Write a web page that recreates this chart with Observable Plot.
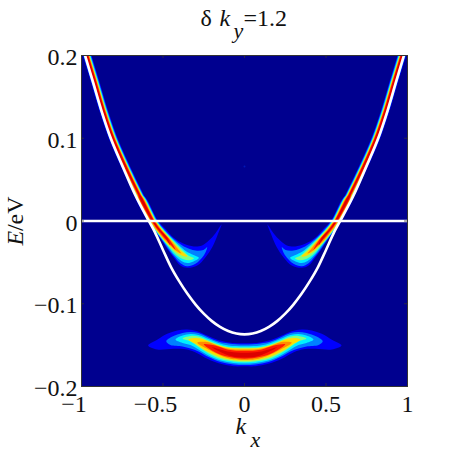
<!DOCTYPE html>
<html><head><meta charset="utf-8">
<style>html,body{margin:0;padding:0;background:#fff}</style>
<script src="https://cdn.jsdelivr.net/npm/d3@7"></script>
<script src="https://cdn.jsdelivr.net/npm/@observablehq/plot@0.6"></script>
</head><body><div id="chart"></div>
<script>
const xTicks=[-1,-0.5,0,0.5,1];
const xNegLabels=["−1","−0.5"];
const xPosLabels=["0","0.5","1"];
const yTicks=[-0.2,-0.1,0,0.1,0.2];
const yLabels=["−0.2","−0.1","0","0.1","0.2"];

const dispersion=[[-.996,.2121],[-.978,.2],[-.927,.1662],[-.878,.1335],[-.82,.0997],[-.745,.0647],[-.669,.0308],[-.587,0],[-.55,-.0135],[-.5,-.035],[-.45,-.056],[-.4,-.073],[-.35,-.088],[-.3,-.101],[-.25,-.112],[-.2,-.121],[-.15,-.128],[-.1,-.133],[-.05,-.136],[0,-.137],[.05,-.136],[.1,-.133],[.15,-.128],[.2,-.121],[.25,-.112],[.3,-.101],[.35,-.088],[.4,-.073],[.45,-.056],[.5,-.035],[.55,-.0135],[.587,0],[.669,.0308],[.745,.0647],[.82,.0997],[.878,.1335],[.927,.1662],[.978,.2],[.996,.2121]];

const ridgeLeft=[[-.983,.2121],[-.965,.2],[-.913,.1662],[-.864,.1335],[-.805,.0997],[-.727,.0647],[-.644,.0308],[-.564,.0006]];
const ridgeRight=[[.983,.2121],[.965,.2],[.913,.1662],[.864,.1335],[.805,.0997],[.727,.0647],[.644,.0308],[.564,.0006]];

const armLeft1=[[-.669,.0308],[-.595,.0006],[-.558,-.0103],[-.515,-.0215],[-.474,-.0336],[-.434,-.0445],[-.393,-.0538],[-.352,-.0566],[-.290,-.0538],[-.239,-.0437],[-.198,-.0317],[-.164,-.0163],[-.141,-.0042],[-.178,-.0147],[-.219,-.0236],[-.260,-.0296],[-.311,-.0308],[-.372,-.0276],[-.434,-.0203],[-.485,-.0094],[-.532,.0006],[-.619,.0308]];
const armLeft2=[[-.665,.0308],[-.591,.0006],[-.555,-.0103],[-.512,-.0211],[-.472,-.0326],[-.431,-.0429],[-.393,-.0510],[-.352,-.0546],[-.301,-.0517],[-.250,-.0417],[-.229,-.0317],[-.252,-.0350],[-.301,-.0356],[-.372,-.0308],[-.434,-.0218],[-.488,-.0109],[-.536,.0006],[-.623,.0308]];
const armLeft3=[[-.662,.0308],[-.588,.0006],[-.552,-.0103],[-.509,-.0211],[-.466,-.0320],[-.426,-.0417],[-.387,-.0483],[-.350,-.0508],[-.313,-.0489],[-.280,-.0445],[-.313,-.0411],[-.356,-.0369],[-.383,-.0326],[-.442,-.0218],[-.494,-.0109],[-.540,.0006],[-.626,.0308]];
const armLeft4=[[-.659,.0308],[-.584,.0006],[-.548,-.0103],[-.506,-.0211],[-.460,-.0320],[-.417,-.0411],[-.374,-.0463],[-.337,-.0475],[-.310,-.0453],[-.344,-.0417],[-.393,-.0326],[-.448,-.0218],[-.498,-.0109],[-.544,.0006],[-.629,.0308]];
const armLeft5=[[-.656,.0308],[-.580,.0006],[-.545,-.0103],[-.502,-.0211],[-.454,-.0314],[-.411,-.0387],[-.368,-.0429],[-.350,-.0427],[-.380,-.0375],[-.405,-.0326],[-.454,-.0218],[-.503,-.0109],[-.547,.0006],[-.632,.0308]];
const armLeft6=[[-.653,.0308],[-.577,.0006],[-.540,-.0103],[-.497,-.0211],[-.451,-.0302],[-.417,-.0363],[-.387,-.0393],[-.414,-.0326],[-.460,-.0218],[-.509,-.0109],[-.551,.0006],[-.635,.0308]];
const armLeft7=[[-.650,.0308],[-.572,.0006],[-.534,-.0103],[-.492,-.0205],[-.454,-.0284],[-.423,-.0350],[-.436,-.0296],[-.466,-.0211],[-.515,-.0103],[-.555,.0006],[-.638,.0308]];
const armLeft8=[[-.647,.0308],[-.568,.0006],[-.528,-.0103],[-.488,-.0199],[-.454,-.0296],[-.475,-.0199],[-.521,-.0103],[-.558,.0006],[-.641,.0308]];

const armRight1=[[.669,.0308],[.595,.0006],[.558,-.0103],[.515,-.0215],[.474,-.0336],[.434,-.0445],[.393,-.0538],[.352,-.0566],[.290,-.0538],[.239,-.0437],[.198,-.0317],[.164,-.0163],[.141,-.0042],[.178,-.0147],[.219,-.0236],[.260,-.0296],[.311,-.0308],[.372,-.0276],[.434,-.0203],[.485,-.0094],[.532,.0006],[.619,.0308]];
const armRight2=[[.665,.0308],[.591,.0006],[.555,-.0103],[.512,-.0211],[.472,-.0326],[.431,-.0429],[.393,-.0510],[.352,-.0546],[.301,-.0517],[.250,-.0417],[.229,-.0317],[.252,-.0350],[.301,-.0356],[.372,-.0308],[.434,-.0218],[.488,-.0109],[.536,.0006],[.623,.0308]];
const armRight3=[[.662,.0308],[.588,.0006],[.552,-.0103],[.509,-.0211],[.466,-.0320],[.426,-.0417],[.387,-.0483],[.350,-.0508],[.313,-.0489],[.280,-.0445],[.313,-.0411],[.356,-.0369],[.383,-.0326],[.442,-.0218],[.494,-.0109],[.540,.0006],[.626,.0308]];
const armRight4=[[.659,.0308],[.584,.0006],[.548,-.0103],[.506,-.0211],[.460,-.0320],[.417,-.0411],[.374,-.0463],[.337,-.0475],[.310,-.0453],[.344,-.0417],[.393,-.0326],[.448,-.0218],[.498,-.0109],[.544,.0006],[.629,.0308]];
const armRight5=[[.656,.0308],[.580,.0006],[.545,-.0103],[.502,-.0211],[.454,-.0314],[.411,-.0387],[.368,-.0429],[.350,-.0427],[.380,-.0375],[.405,-.0326],[.454,-.0218],[.503,-.0109],[.547,.0006],[.632,.0308]];
const armRight6=[[.653,.0308],[.577,.0006],[.540,-.0103],[.497,-.0211],[.451,-.0302],[.417,-.0363],[.387,-.0393],[.414,-.0326],[.460,-.0218],[.509,-.0109],[.551,.0006],[.635,.0308]];
const armRight7=[[.650,.0308],[.572,.0006],[.534,-.0103],[.492,-.0205],[.454,-.0284],[.423,-.0350],[.436,-.0296],[.466,-.0211],[.515,-.0103],[.555,.0006],[.638,.0308]];
const armRight8=[[.647,.0308],[.568,.0006],[.528,-.0103],[.488,-.0199],[.454,-.0296],[.475,-.0199],[.521,-.0103],[.558,.0006],[.641,.0308]];

const lowBand1=[[-.591,-.1505],[-.536,-.1436],[-.474,-.1364],[-.413,-.1323],[-.352,-.1311],[-.290,-.1331],[-.229,-.1384],[-.167,-.1436],[-.106,-.1464],[-.045,-.1476],[.045,-.1476],[.106,-.1464],[.167,-.1436],[.229,-.1384],[.290,-.1331],[.352,-.1311],[.413,-.1323],[.474,-.1364],[.536,-.1436],[.595,-.1505],[.536,-.1553],[.434,-.1544],[.352,-.1553],[.290,-.1598],[.229,-.1665],[.147,-.1726],[.066,-.1755],[0,-.1755],[-.066,-.1755],[-.147,-.1726],[-.229,-.1665],[-.290,-.1598],[-.352,-.1553],[-.434,-.1544],[-.536,-.1553]];
const lowBand2=[[-.480,-.1453],[-.442,-.1396],[-.380,-.1354],[-.331,-.1341],[-.282,-.1354],[-.221,-.1408],[-.160,-.1456],[-.098,-.1480],[0,-.1492],[.098,-.1480],[.160,-.1456],[.221,-.1408],[.282,-.1354],[.331,-.1341],[.380,-.1354],[.442,-.1396],[.480,-.1453],[.454,-.1499],[.380,-.1517],[.331,-.1541],[.282,-.1577],[.221,-.1644],[.147,-.1704],[.067,-.1734],[0,-.1740],[-.067,-.1734],[-.147,-.1704],[-.221,-.1644],[-.282,-.1577],[-.331,-.1541],[-.380,-.1517],[-.454,-.1499]];
const lowBand3=[[-.423,-.1432],[-.380,-.1384],[-.331,-.1366],[-.282,-.1378],[-.221,-.1426],[-.160,-.1474],[-.098,-.1505],[0,-.1513],[.098,-.1505],[.160,-.1474],[.221,-.1426],[.282,-.1378],[.331,-.1366],[.380,-.1384],[.423,-.1432],[.380,-.1474],[.331,-.1499],[.282,-.1553],[.221,-.1625],[.147,-.1686],[.067,-.1716],[0,-.1722],[-.067,-.1716],[-.147,-.1686],[-.221,-.1625],[-.282,-.1553],[-.331,-.1499],[-.380,-.1474]];
const lowBand4=[[-.380,-.1420],[-.331,-.1390],[-.282,-.1396],[-.221,-.1444],[-.160,-.1492],[-.098,-.1523],[0,-.1529],[.098,-.1523],[.160,-.1492],[.221,-.1444],[.282,-.1396],[.331,-.1390],[.380,-.1420],[.331,-.1456],[.282,-.1523],[.221,-.1601],[.147,-.1668],[.067,-.1698],[0,-.1706],[-.067,-.1698],[-.147,-.1668],[-.221,-.1601],[-.282,-.1523],[-.331,-.1456]];
const lowBand5=[[-.344,-.1432],[-.307,-.1414],[-.270,-.1420],[-.221,-.1455],[-.160,-.1502],[-.098,-.1532],[0,-.1540],[.098,-.1532],[.160,-.1502],[.221,-.1455],[.270,-.1420],[.307,-.1414],[.344,-.1432],[.294,-.1492],[.245,-.1559],[.196,-.1607],[.135,-.1656],[.067,-.1683],[0,-.1689],[-.067,-.1683],[-.135,-.1656],[-.196,-.1607],[-.245,-.1559],[-.294,-.1492]];
const lowBand6=[[-.29,-.1470],[-.22,-.1465],[-.16,-.1510],[-.086,-.1546],[0,-.1552],[.086,-.1546],[.16,-.1510],[.22,-.1465],[.29,-.1470],[.209,-.1565],[.147,-.1625],[.067,-.1672],[0,-.1680],[-.067,-.1672],[-.147,-.1625],[-.209,-.1565]];
const lowBand7=[[-.25,-.1490],[-.18,-.1505],[-.10,-.1555],[0,-.1568],[.10,-.1555],[.18,-.1505],[.25,-.1490],[.18,-.1585],[.10,-.1640],[0,-.1664],[-.10,-.1640],[-.18,-.1585]];
const lowBand8=[[-.20,-.1525],[-.09,-.1580],[0,-.1592],[.09,-.1580],[.20,-.1525],[.09,-.1628],[0,-.1650],[-.09,-.1628]];

const faintSpot=[[0,.066]];

const armsLeft=[armLeft1,armLeft2,armLeft3,armLeft4,armLeft5,armLeft6,armLeft7,armLeft8];
const armsRight=[armRight1,armRight2,armRight3,armRight4,armRight5,armRight6,armRight7,armRight8];
const lowBands=[lowBand1,lowBand2,lowBand3,lowBand4,lowBand5,lowBand6,lowBand7,lowBand8];
const colors=["#0000ff","#0080ff","#00f0ff","#80ff80","#ffdc00","#ff8c00","#ff1800","#dc0000"];
const stripeWidths=[8.4,7.2,6.1,5.1,4.2,3.3,2.5,1.4];

const X=d=>d[0],Y=d=>d[1];
const fills=[];
colors.forEach((c,i)=>{
  for(const ridge of [ridgeLeft,ridgeRight]) fills.push(Plot.line(ridge,{x:X,y:Y,stroke:c,strokeWidth:stripeWidths[i],curve:"catmull-rom",clip:true,strokeLinecap:"butt"}));
  for(const poly of [armsLeft[i],armsRight[i],lowBands[i]]) fills.push(Plot.line(poly,{x:X,y:Y,fill:c,stroke:"none",curve:"catmull-rom-closed",clip:true}));
});
const fmtX=d=>(d<0?xNegLabels[xTicks.indexOf(d)]:xPosLabels[xTicks.indexOf(d)-2]);
const fmtY=d=>yLabels[yTicks.indexOf(d)];
const serif="Liberation Serif";
const ink="#111";
const label=(s,dx,dy,extra={})=>Plot.text([s],{text:d=>d,frameAnchor:"top-left",textAnchor:"start",lineAnchor:"bottom",dx,dy,fontSize:24,fill:ink,...extra});

const chart=Plot.plot({
  width:450,height:450,marginLeft:81,marginRight:43,marginTop:55,marginBottom:64,
  x:{domain:[-1,1],axis:null},y:{domain:[-0.2,0.2],axis:null},
  style:{fontFamily:serif,background:"#fff"},
  marks:[
    Plot.frame({fill:"#00008f",stroke:"none"}),
    ...fills,
    Plot.dot(faintSpot,{x:X,y:Y,r:1,fill:"#0018b8"}),
    Plot.line(dispersion,{x:X,y:Y,stroke:"#fff",strokeWidth:2.6,curve:"catmull-rom",clip:true}),
    Plot.ruleY([0],{stroke:"#fff",strokeWidth:2.4}),
    Plot.ruleX(xTicks,{y1:-0.2,y2:-0.1964,stroke:"#333",strokeWidth:0.8}),
    Plot.ruleX(xTicks,{y1:0.2,y2:0.1964,stroke:"#333",strokeWidth:0.8}),
    Plot.ruleY(yTicks,{x1:-1,x2:-0.982,stroke:"#333",strokeWidth:0.8}),
    Plot.ruleY(yTicks,{x1:1,x2:0.982,stroke:"#333",strokeWidth:0.8}),
    Plot.frame({stroke:"#333",strokeWidth:1}),
    Plot.axisX({ticks:xTicks.slice(0,2),tickFormat:fmtX,tickSize:0,tickPadding:8.5,fontSize:24,dx:-7.5,label:null,fill:ink}),
    Plot.axisX({ticks:xTicks.slice(2),tickFormat:fmtX,tickSize:0,tickPadding:8.5,fontSize:24,label:null,fill:ink}),
    Plot.axisY({ticks:yTicks,tickFormat:fmtY,tickSize:0,tickPadding:4,fontSize:24,dy:2,label:null,fill:ink}),
    label("δ",119,-30),
    label("k",138,-30,{fontStyle:"italic"}),
    label("y",152,-18,{fontStyle:"italic",fontSize:22}),
    label("=1.2",162,-30),
    label("k",154,378,{fontStyle:"italic"}),
    label("x",169,391,{fontStyle:"italic",fontSize:22}),
    label("E",-59,190,{fontStyle:"italic",rotate:-90}),
    label("/eV",-59,175.6,{rotate:-90})
  ]
});
document.getElementById("chart").appendChild(chart);
</script></body></html>
